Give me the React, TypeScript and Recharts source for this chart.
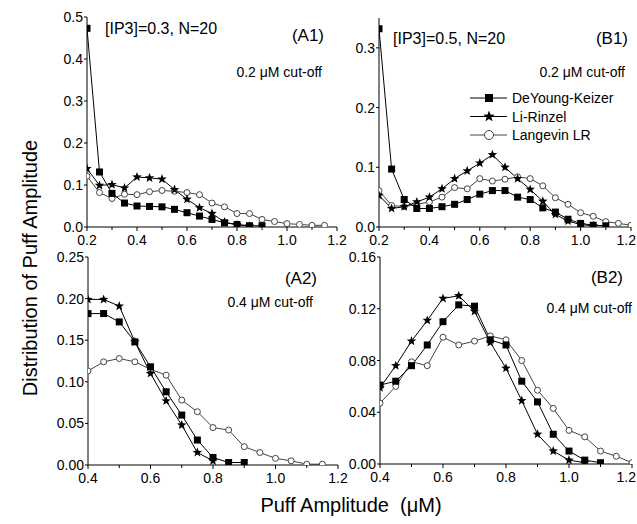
import React from 'react';
import { LineChart, Line, XAxis, YAxis } from 'recharts';

const FONT = '"Liberation Sans", Arial, sans-serif';

// ---------- data ----------
const X_A1 = [0.2, 0.25, 0.3, 0.35, 0.4, 0.45, 0.5, 0.55, 0.6, 0.65, 0.7, 0.75, 0.8, 0.85, 0.9, 0.95, 1.0, 1.05, 1.1, 1.15];
const A1_DK = [0.473, 0.131, 0.08, 0.057, 0.05, 0.049, 0.048, 0.042, 0.034, 0.026, 0.018, 0.01, 0.006, 0.003, 0.003];
const A1_LR = [0.139, 0.099, 0.101, 0.093, 0.119, 0.117, 0.114, 0.089, 0.066, 0.046, 0.032, 0.012, 0.005, 0.002];
const A1_LG = [0.121, 0.082, 0.068, 0.078, 0.077, 0.084, 0.087, 0.085, 0.082, 0.077, 0.057, 0.048, 0.032, 0.032, 0.018, 0.013, 0.008, 0.006, 0.004, 0.004];

const X_B1 = [0.2, 0.25, 0.3, 0.35, 0.4, 0.45, 0.5, 0.55, 0.6, 0.65, 0.7, 0.75, 0.8, 0.85, 0.9, 0.95, 1.0, 1.05, 1.1, 1.15, 1.2];
const B1_DK = [0.332, 0.097, 0.046, 0.031, 0.031, 0.034, 0.038, 0.046, 0.055, 0.061, 0.061, 0.05, 0.046, 0.032, 0.025, 0.013, 0.006, 0.003, 0.002];
const B1_LR = [0.053, 0.031, 0.034, 0.042, 0.05, 0.064, 0.081, 0.094, 0.107, 0.121, 0.1, 0.081, 0.063, 0.043, 0.021, 0.01, 0.004, 0.002];
const B1_LG = [0.061, 0.036, 0.034, 0.038, 0.042, 0.05, 0.066, 0.064, 0.081, 0.077, 0.08, 0.084, 0.081, 0.069, 0.049, 0.038, 0.024, 0.018, 0.009, 0.006, 0.003];

const X_A2 = [0.4, 0.45, 0.5, 0.55, 0.6, 0.65, 0.7, 0.75, 0.8, 0.85, 0.9, 0.95, 1.0, 1.05, 1.1, 1.15];
const A2_DK = [0.182, 0.182, 0.172, 0.148, 0.118, 0.088, 0.06, 0.03, 0.009, 0.003, 0.003];
const A2_LR = [0.199, 0.199, 0.191, 0.148, 0.11, 0.077, 0.048, 0.015, 0.005];
const A2_LG = [0.113, 0.124, 0.128, 0.124, 0.115, 0.108, 0.078, 0.064, 0.045, 0.042, 0.022, 0.015, 0.008, 0.005, 0.001, 0.001];

const X_B2 = [0.4, 0.45, 0.5, 0.55, 0.6, 0.65, 0.7, 0.75, 0.8, 0.85, 0.9, 0.95, 1.0, 1.05, 1.1, 1.15, 1.2];
const B2_DK = [0.061, 0.064, 0.076, 0.092, 0.11, 0.123, 0.122, 0.096, 0.092, 0.064, 0.048, 0.023, 0.01, 0.003, 0.001];
const B2_LR = [0.059, 0.076, 0.095, 0.111, 0.128, 0.13, 0.118, 0.094, 0.074, 0.049, 0.023, 0.01, 0.003, 0.001];
const B2_LG = [0.047, 0.06, 0.079, 0.076, 0.098, 0.092, 0.095, 0.099, 0.096, 0.08, 0.057, 0.043, 0.026, 0.021, 0.01, 0.006, 0.001];

const XT_TOP = [0.2, 0.3, 0.4, 0.5, 0.6, 0.7, 0.8, 0.9, 1.0, 1.1, 1.2];
const XT_BOT = [0.4, 0.5, 0.6, 0.7, 0.8, 0.9, 1.0, 1.1, 1.2];
const YT_A1 = [0, 0.1, 0.2, 0.3, 0.4, 0.5];
const YT_B1 = [0, 0.1, 0.2, 0.3];
const YT_A2 = [0, 0.05, 0.1, 0.15, 0.2, 0.25];
const YT_B2 = [0, 0.04, 0.08, 0.12, 0.16];

const LEGEND = ['DeYoung-Keizer', 'Li-Rinzel', 'Langevin LR'];

function build(xs: number[], dk: number[], lr: number[], lg: number[]) {
  return xs.map((x, i) => ({
    x,
    dk: i < dk.length ? dk[i] : null,
    lr: i < lr.length ? lr[i] : null,
    lg: i < lg.length ? lg[i] : null,
  }));
}

// ---------- markers ----------
function starPoints(cx: number, cy: number, R: number) {
  const r = R * 0.42;
  const pts: string[] = [];
  for (let i = 0; i < 10; i++) {
    const a = -Math.PI / 2 + (i * Math.PI) / 5;
    const rr = i % 2 === 0 ? R : r;
    pts.push(`${cx + rr * Math.cos(a)},${cy + rr * Math.sin(a)}`);
  }
  return pts.join(' ');
}

const SquareDot = (p: any) => {
  if (p.cx == null || p.cy == null || p.value == null) return <g key={p.key} />;
  return <rect key={p.key} x={p.cx - 3.5} y={p.cy - 3.5} width={7} height={7} fill="#000" />;
};
const StarDot = (p: any) => {
  if (p.cx == null || p.cy == null || p.value == null) return <g key={p.key} />;
  return <polygon key={p.key} points={starPoints(p.cx, p.cy, 5)} fill="#000" />;
};
const CircleDot = (p: any) => {
  if (p.cx == null || p.cy == null || p.value == null) return <g key={p.key} />;
  return <circle key={p.key} cx={p.cx} cy={p.cy} r={3} fill="#fff" stroke="#444" strokeWidth={1} />;
};

// ---------- ticks ----------
const W = 637;
const H = 524;

const makeXTick = (labelEvery: number, decimals: number) => (p: any) => {
  const v = p.payload.value;
  const major = Math.abs(Math.round(v * 100) % Math.round(labelEvery * 100)) === 0;
  const nearEdge = p.x > W - 12;
  return (
    <g key={p.key ?? v}>
      <line x1={p.x} x2={p.x} y1={p.y} y2={p.y + (major ? 4 : 3)} stroke="#000" strokeWidth={1} />
      {major && (
        <text x={nearEdge ? W - 1 : p.x} y={p.y + 18} textAnchor={nearEdge ? 'end' : 'middle'}
          fontFamily={FONT} fontSize={14} fill="#000">
          {v.toFixed(decimals)}
        </text>
      )}
    </g>
  );
};

const makeYTick = (decimals: number) => (p: any) => {
  const v = p.payload.value;
  return (
    <g key={p.key ?? v}>
      <line x1={p.x - 3} x2={p.x} y1={p.y} y2={p.y} stroke="#000" strokeWidth={1} />
      <text x={p.x - 4} y={p.y + 5} textAnchor="end" fontFamily={FONT} fontSize={14} fill="#000">
        {v.toFixed(decimals)}
      </text>
    </g>
  );
};

type PanelProps = {
  data: any[];
  left: number; right: number; top: number; bottom: number;
  xDomain: [number, number]; yDomain: [number, number];
  xTicks: number[]; yTicks: number[]; yDec: number;
};

function Panel({ data, left, right, top, bottom, xDomain, yDomain, xTicks, yTicks, yDec }: PanelProps) {
  return (
    <div style={{ position: 'absolute', left: 0, top: 0 }}>
      <LineChart width={W} height={H} data={data} margin={{ top, right: W - right, left: 0, bottom: 0 }}>
        <XAxis
          type="number" dataKey="x" domain={xDomain} ticks={xTicks} allowDataOverflow
          height={H - bottom} tickSize={0} tickMargin={0} tickLine={false}
          axisLine={{ stroke: '#000', strokeWidth: 1 }} tick={makeXTick(0.2, 1)} interval={0}
        />
        <YAxis
          type="number" domain={yDomain} ticks={yTicks} allowDataOverflow
          width={left} tickSize={0} tickMargin={0} tickLine={false}
          axisLine={{ stroke: '#000', strokeWidth: 1 }} tick={makeYTick(yDec)} interval={0}
        />
        <Line dataKey="lg" stroke="#444" strokeWidth={1} dot={CircleDot} isAnimationActive={false} />
        <Line dataKey="lr" stroke="#000" strokeWidth={1} dot={StarDot} isAnimationActive={false} />
        <Line dataKey="dk" stroke="#000" strokeWidth={1} dot={SquareDot} isAnimationActive={false} />
      </LineChart>
    </div>
  );
}

export default function App() {
  const tStyle = { fontFamily: FONT, fill: '#000' } as const;
  return (
    <div style={{ position: 'absolute', left: 0, top: 0, width: W, height: H, background: '#fff', overflow: 'hidden' }}>
      <Panel data={build(X_A1, A1_DK, A1_LR, A1_LG)} left={87} right={337} top={17} bottom={227}
        xDomain={[0.2, 1.2]} yDomain={[0, 0.5]} xTicks={XT_TOP} yTicks={YT_A1} yDec={1} />
      <Panel data={build(X_B1, B1_DK, B1_LR, B1_LG)} left={379} right={631} top={18} bottom={227}
        xDomain={[0.2, 1.2]} yDomain={[0, 0.35]} xTicks={XT_TOP} yTicks={YT_B1} yDec={1} />
      <Panel data={build(X_A2, A2_DK, A2_LR, A2_LG)} left={88} right={338} top={257} bottom={465}
        xDomain={[0.4, 1.2]} yDomain={[0, 0.25]} xTicks={XT_BOT} yTicks={YT_A2} yDec={2} />
      <Panel data={build(X_B2, B2_DK, B2_LR, B2_LG)} left={380} right={632} top={257} bottom={464}
        xDomain={[0.4, 1.2]} yDomain={[0, 0.16]} xTicks={XT_BOT} yTicks={YT_B2} yDec={2} />
      <svg width={W} height={H} style={{ position: 'absolute', left: 0, top: 0, pointerEvents: 'none' }}>
        <text {...tStyle} x={105} y={34} fontSize={16}>[IP3]=0.3, N=20</text>
        <text {...tStyle} x={324} y={41} fontSize={17} textAnchor="end">(A1)</text>
        <text {...tStyle} x={322} y={77} fontSize={14} textAnchor="end">0.2 μM cut-off</text>

        <text {...tStyle} x={393} y={44} fontSize={16}>[IP3]=0.5, N=20</text>
        <text {...tStyle} x={628} y={44} fontSize={17} textAnchor="end">(B1)</text>
        <text {...tStyle} x={625} y={77} fontSize={14} textAnchor="end">0.2 μM cut-off</text>

        <text {...tStyle} x={317} y={284} fontSize={17} textAnchor="end">(A2)</text>
        <text {...tStyle} x={313} y={307} fontSize={14} textAnchor="end">0.4 μM cut-off</text>

        <text {...tStyle} x={623} y={283} fontSize={17} textAnchor="end">(B2)</text>
        <text {...tStyle} x={632} y={313} fontSize={14} textAnchor="end">0.4 μM cut-off</text>

        {LEGEND.map((name, i) => {
          const y = 98 + i * 18.5;
          return (
            <g key={name}>
              <line x1={470} x2={507} y1={y} y2={y} stroke={i === 2 ? '#444' : '#000'} strokeWidth={1} />
              {i === 0 && <rect x={485} y={y - 4} width={8} height={8} fill="#000" />}
              {i === 1 && <polygon points={starPoints(489, y, 6)} fill="#000" />}
              {i === 2 && <circle cx={489} cy={y} r={4.5} fill="#fff" stroke="#444" />}
              <text {...tStyle} x={512} y={y + 5} fontSize={14}>{name}</text>
            </g>
          );
        })}

        <text {...tStyle} fontSize={20} textAnchor="middle" transform="translate(37,268) rotate(-90)">
          Distribution of Puff Amplitude
        </text>
        <text {...tStyle} fontSize={20} textAnchor="middle" x={351} y={512}>
          {'Puff Amplitude\u00A0\u00A0(μM)'}
        </text>
      </svg>
    </div>
  );
}
